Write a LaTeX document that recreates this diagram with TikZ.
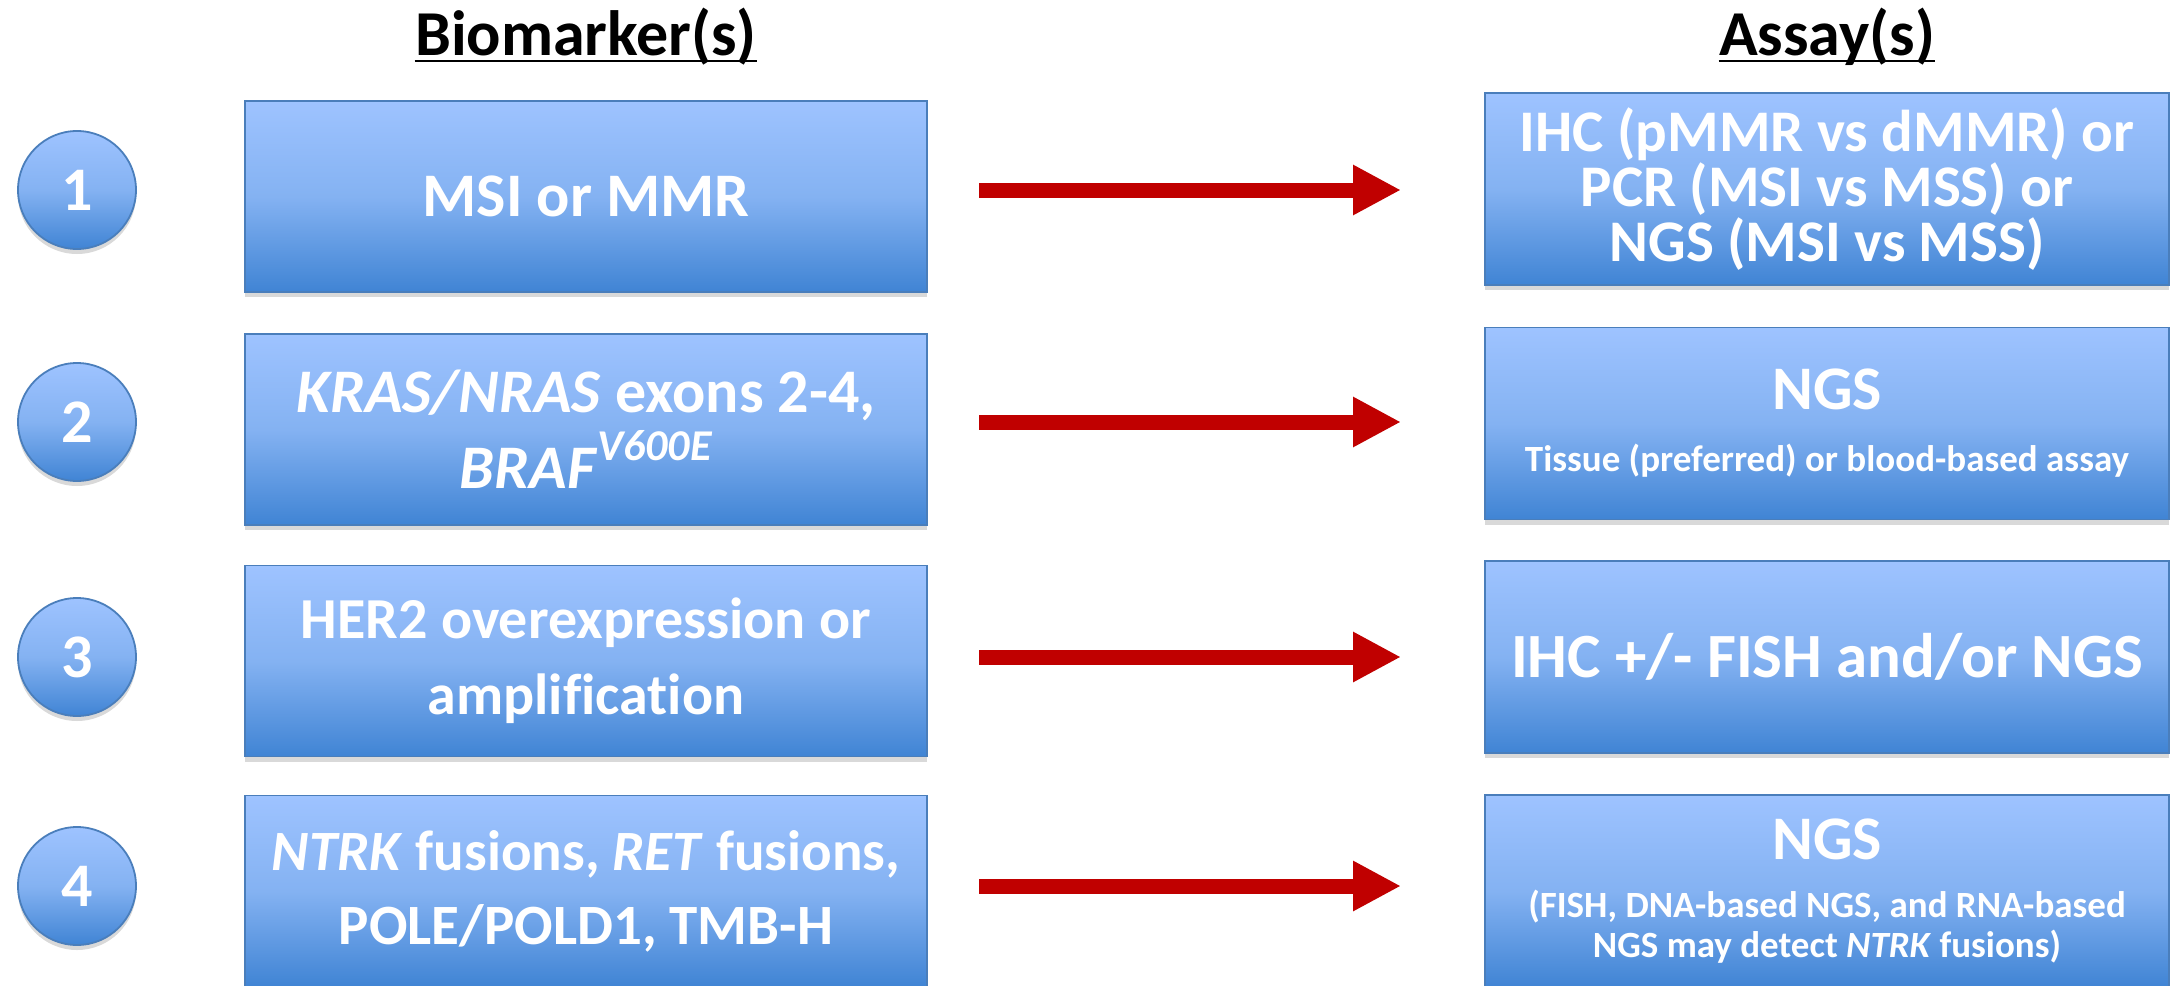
\documentclass[tikz,border=0pt]{standalone}
\usepackage{fontspec}
\setmainfont[Ligatures=NoCommon]{Carlito}
\usetikzlibrary{arrows.meta,shadows,calc}

\definecolor{boxtop}{RGB}{158,195,255}
\definecolor{boxmid}{RGB}{132,178,242}
\definecolor{boxbot}{RGB}{64,132,212}
\definecolor{boxline}{RGB}{74,126,187}
\definecolor{arrowred}{RGB}{192,0,0}

\begin{document}
\begin{tikzpicture}[x=0.5pt,y=-0.5pt,
    bluebox/.style={draw=boxline, line width=0.9pt,
        top color=boxtop, bottom color=boxbot, middle color=boxmid,
        drop shadow={opacity=0.3, shadow xshift=0pt, shadow yshift=-2.5pt},
        inner sep=0pt, outer sep=0pt, align=center, text=white},
    marker/.style={bluebox, minimum width=341pt, minimum height=95.5pt,
        font=\bfseries\fontsize{31}{38}\selectfont},
    assay/.style={bluebox, minimum width=342pt, minimum height=96pt,
        font=\bfseries\fontsize{31}{38}\selectfont},
    number/.style={bluebox, circle, minimum size=59pt,
        font=\bfseries\fontsize{31}{31}\selectfont},
    heading/.style={inner sep=0pt, font=\bfseries\fontsize{32}{32}\selectfont},
    redarrow/.style={arrowred, line width=7.5pt,
        -{Triangle[width=23.5pt,length=24pt]}}]
\clip (0,0) rectangle (2172,985);

% column titles
\node[heading, anchor=base] (hbio) at (586,55) {Biomarker(s)};
\node[heading, anchor=base] (hassay) at (1827,55) {Assay(s)};
\draw[line width=1.2pt] ([yshift=-3pt]hbio.base west) -- ([yshift=-3pt]hbio.base east);
\draw[line width=1.2pt] ([yshift=-3pt]hassay.base west) -- ([yshift=-3pt]hassay.base east);

% numbers
\node[number] (n1) at (77,190) {1};
\node[number] (n2) at (77,422) {2};
\node[number] (n3) at (77,657) {3};
\node[number] (n4) at (77,886) {4};

% biomarkers
\node[marker] (b1) at (586,196.5) {MSI or MMR};
\node[marker] (b2) at (586,429.5) {\textit{KRAS/NRAS} exons 2-4,\\
    \textit{BRAF}\raisebox{0.45em}{\fontsize{22}{22}\selectfont\textit{V600E}}};
\node[marker, font=\bfseries\fontsize{29}{38}\selectfont] (b3) at (586,661)
    {HER2 overexpression or\\ amplification};
\node[marker, font=\bfseries\fontsize{28.5}{37}\selectfont] (b4) at (586,891)
    {\textit{NTRK} fusions, \textit{RET} fusions,\\ POLE/POLD1, TMB-H};

% assays
\node[assay, font=\bfseries\fontsize{29.5}{26}\selectfont] (a1) at (1827,189)
    {IHC (pMMR vs dMMR) or\\ PCR (MSI vs MSS) or\\ NGS (MSI vs MSS)};
\node[assay] (a2) at (1827,423.5) {NGS\\[-7pt]
    {\fontsize{18.5}{20}\selectfont Tissue (preferred) or blood-based assay}};
\node[assay, font=\bfseries\fontsize{31.5}{38}\selectfont] (a3) at (1827,657)
    {IHC +/- FISH and/or NGS};
\node[assay] (a4) at (1827,891) {NGS\\[-9pt]
    {\fontsize{18.5}{20}\selectfont (FISH, DNA-based NGS, and RNA-based}\\[-18pt]
    {\fontsize{18.5}{20}\selectfont NGS may detect \textit{NTRK} fusions)}};

% arrows
\draw[redarrow] ($(b1.east |- n1.center)+(52,0)$) -- ($(a1.west |- n1.center)+(-84,0)$);
\draw[redarrow] ($(b2.east |- n2.center)+(52,0)$) -- ($(a2.west |- n2.center)+(-84,0)$);
\draw[redarrow] ($(b3.east |- n3.center)+(52,0)$) -- ($(a3.west |- n3.center)+(-84,0)$);
\draw[redarrow] ($(b4.east |- n4.center)+(52,0)$) -- ($(a4.west |- n4.center)+(-84,0)$);
\end{tikzpicture}
\end{document}
